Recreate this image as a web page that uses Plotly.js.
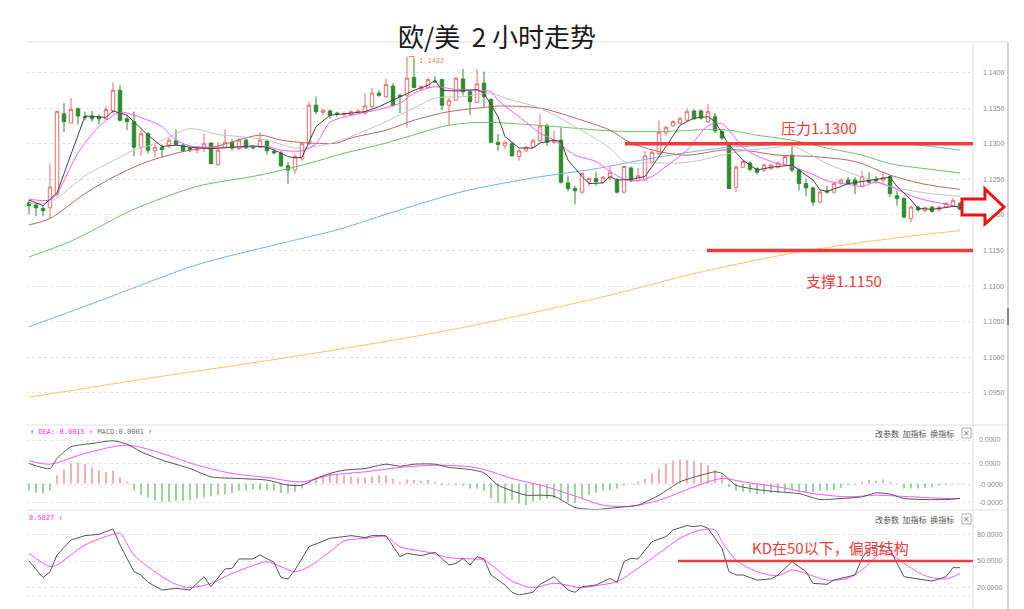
<!DOCTYPE html>
<html><head><meta charset="utf-8">
<script src="https://cdn.plot.ly/plotly-3.0.1.min.js"></script>
<style>html,body{margin:0;padding:0;background:#fff}#chart{width:1024px;height:609px}</style>
</head><body><div id="chart"></div>
<script>
// ---------------- DATA ----------------
const openP = [1.1217,1.1214,1.1209,1.1210,1.1229,1.1342,1.1329,1.1349,1.1338,1.1339,1.1338,1.1335,1.1346,1.1375,1.1335,1.1331,1.1295,1.1314,1.1290,1.1295,
1.1298,1.1304,1.1298,1.1294,1.1291,1.1294,1.1301,1.1271,1.1295,1.1302,1.1293,1.1305,1.1296,1.1295,1.1304,1.1289,1.1287,1.1269,1.1263,1.1279,
1.1300,1.1354,1.1344,1.1346,1.1343,1.1341,1.1341,1.1344,1.1343,1.1352,1.1371,1.1366,1.1381,1.1368,1.1368,1.1393,1.1377,1.1379,1.1388,1.1390,
1.1354,1.1361,1.1391,1.1373,1.1358,1.1385,1.1362,1.1302,1.1297,1.1300,1.1282,1.1290,1.1295,1.1304,1.1325,1.1302,1.1305,1.1245,1.1237,1.1232,
1.1246,1.1251,1.1246,1.1252,1.1249,1.1232,1.1266,1.1248,1.1249,1.1274,1.1286,1.1315,1.1325,1.1329,1.1333,1.1346,1.1346,1.1331,1.1338,1.1317,
1.1300,1.1239,1.1267,1.1273,1.1265,1.1263,1.1265,1.1267,1.1271,1.1284,1.1263,1.1244,1.1238,1.1218,1.1234,1.1232,1.1245,1.1249,1.1249,1.1240,
1.1249,1.1250,1.1249,1.1254,1.1227,1.1223,1.1195,1.1211,1.1206,1.1211,1.1207,1.1211,1.1213,1.1216];
const highP = [1.1221,1.1217,1.1214,1.1272,1.1347,1.1357,1.1364,1.1351,1.1345,1.1346,1.1341,1.1352,1.1386,1.1383,1.1340,1.1345,1.1319,1.1316,1.1299,1.1299,
1.1308,1.1320,1.1300,1.1296,1.1296,1.1314,1.1302,1.1302,1.1320,1.1306,1.1308,1.1307,1.1298,1.1316,1.1306,1.1293,1.1290,1.1274,1.1286,1.1302,
1.1359,1.1366,1.1349,1.1348,1.1345,1.1345,1.1347,1.1348,1.1371,1.1378,1.1375,1.1391,1.1385,1.1370,1.1422,1.1418,1.1382,1.1392,1.1395,1.1391,
1.1364,1.1393,1.1405,1.1375,1.1405,1.1401,1.1364,1.1314,1.1304,1.1302,1.1293,1.1297,1.1307,1.1342,1.1328,1.1318,1.1323,1.1255,1.1241,1.1260,
1.1253,1.1260,1.1255,1.1268,1.1252,1.1269,1.1268,1.1266,1.1290,1.1290,1.1333,1.1325,1.1333,1.1338,1.1349,1.1348,1.1348,1.1356,1.1343,1.1319,
1.1302,1.1270,1.1277,1.1275,1.1267,1.1272,1.1272,1.1275,1.1284,1.1296,1.1265,1.1251,1.1240,1.1234,1.1241,1.1246,1.1251,1.1253,1.1253,1.1262,
1.1260,1.1255,1.1261,1.1256,1.1234,1.1225,1.1213,1.1213,1.1212,1.1213,1.1213,1.1218,1.1224,1.1218];
const lowP = [1.1201,1.1198,1.1198,1.1196,1.1225,1.1316,1.1329,1.1327,1.1333,1.1331,1.1327,1.1333,1.1342,1.1331,1.1319,1.1283,1.1283,1.1286,1.1281,1.1281,
1.1294,1.1298,1.1288,1.1288,1.1286,1.1288,1.1271,1.1269,1.1294,1.1290,1.1291,1.1293,1.1292,1.1294,1.1285,1.1285,1.1267,1.1243,1.1258,1.1276,
1.1298,1.1341,1.1340,1.1335,1.1338,1.1338,1.1340,1.1342,1.1341,1.1350,1.1366,1.1365,1.1352,1.1343,1.1323,1.1378,1.1375,1.1378,1.1385,1.1347,
1.1326,1.1360,1.1368,1.1340,1.1358,1.1352,1.1302,1.1290,1.1293,1.1282,1.1276,1.1289,1.1293,1.1302,1.1297,1.1300,1.1244,1.1233,1.1215,1.1230,
1.1240,1.1241,1.1244,1.1249,1.1230,1.1230,1.1246,1.1247,1.1248,1.1272,1.1284,1.1311,1.1324,1.1328,1.1331,1.1334,1.1334,1.1329,1.1315,1.1305,
1.1237,1.1232,1.1266,1.1261,1.1257,1.1260,1.1263,1.1265,1.1270,1.1260,1.1234,1.1226,1.1213,1.1216,1.1230,1.1230,1.1242,1.1242,1.1229,1.1238,
1.1244,1.1244,1.1244,1.1225,1.1213,1.1195,1.1190,1.1205,1.1204,1.1203,1.1205,1.1210,1.1211,1.1207];
const closeP = [1.1213,1.1210,1.1206,1.1239,1.1345,1.1331,1.1348,1.1339,1.1337,1.1335,1.1335,1.1348,1.1375,1.1333,1.1331,1.1295,1.1314,1.1291,1.1295,1.1292,
1.1305,1.1299,1.1290,1.1292,1.1293,1.1300,1.1272,1.1291,1.1302,1.1294,1.1305,1.1294,1.1294,1.1305,1.1290,1.1287,1.1269,1.1263,1.1282,1.1300,
1.1354,1.1345,1.1347,1.1340,1.1342,1.1342,1.1345,1.1346,1.1353,1.1371,1.1368,1.1383,1.1354,1.1366,1.1392,1.1379,1.1380,1.1390,1.1387,1.1354,
1.1361,1.1392,1.1373,1.1359,1.1384,1.1366,1.1302,1.1299,1.1302,1.1283,1.1290,1.1295,1.1304,1.1325,1.1302,1.1305,1.1246,1.1237,1.1234,1.1258,
1.1251,1.1247,1.1253,1.1260,1.1232,1.1268,1.1248,1.1255,1.1283,1.1288,1.1316,1.1323,1.1331,1.1335,1.1345,1.1335,1.1336,1.1345,1.1318,1.1308,
1.1237,1.1267,1.1275,1.1264,1.1260,1.1270,1.1270,1.1273,1.1282,1.1263,1.1244,1.1238,1.1218,1.1232,1.1232,1.1244,1.1249,1.1244,1.1243,1.1254,
1.1246,1.1248,1.1252,1.1230,1.1223,1.1197,1.1211,1.1207,1.1210,1.1205,1.1211,1.1216,1.1220,1.1208];

// moving averages (sampled along the curves, x = bar number)
const ma5Idx = [1,3,5,9,12,13,15,18,20,22,24,27,33,35,37,38,39,40,42,44,46,49,51,53,54,56,58,59,60,62,65,66,68,69,71,73,74,76,77,78,80,81,83,84,85,87,89,90,92,94,96,98,99,101,103,104,105,107,108,110,111,113,114,115,117,118,120,122,124,125,127,128,130,131,133,134];
const ma5Val = [1.1221,1.1213,1.1231,1.1339,1.1337,1.1346,1.1340,1.1312,1.1296,1.1298,1.1295,1.1293,1.1297,1.1295,1.1287,1.1282,1.1280,1.1281,1.1324,1.1340,1.1342,1.1345,1.1352,1.1361,1.1366,1.1375,1.1382,1.1389,1.1375,1.1374,1.1376,1.1371,1.1338,1.1310,1.1294,1.1294,1.1301,1.1305,1.1303,1.1277,1.1254,1.1244,1.1245,1.1254,1.1249,1.1250,1.1254,1.1268,1.1296,1.1326,1.1336,1.1338,1.1331,1.1298,1.1277,1.1270,1.1263,1.1267,1.1268,1.1270,1.1263,1.1249,1.1235,1.1233,1.1240,1.1244,1.1247,1.1250,1.1253,1.1240,1.1221,1.1209,1.1208,1.1209,1.1212,1.1211];
const ma10Idx = [1,4,5,8,11,14,16,18,20,22,24,27,31,35,37,40,42,44,48,51,54,56,59,62,65,67,68,71,74,76,79,82,84,86,88,90,92,95,98,100,103,105,108,110,113,115,118,120,122,124,127,129,132,134];
const ma10Val = [1.1222,1.1221,1.1230,1.1287,1.1324,1.1344,1.1340,1.1333,1.1324,1.1305,1.1297,1.1295,1.1295,1.1296,1.1291,1.1290,1.1300,1.1330,1.1342,1.1348,1.1357,1.1371,1.1380,1.1376,1.1375,1.1373,1.1361,1.1338,1.1315,1.1305,1.1284,1.1275,1.1261,1.1250,1.1248,1.1254,1.1268,1.1291,1.1325,1.1328,1.1295,1.1283,1.1272,1.1268,1.1257,1.1248,1.1243,1.1240,1.1246,1.1240,1.1227,1.1221,1.1215,1.1211];
const ma20Idx = [1,4,9,11,14,16,19,24,28,31,35,39,43,45,47,52,56,59,63,67,69,74,79,84,86,90,94,97,100,103,107,110,115,120,124,129,134];
const ma20Val = [1.1216,1.1218,1.1255,1.1266,1.1281,1.1291,1.1300,1.1321,1.1313,1.1310,1.1305,1.1294,1.1298,1.1303,1.1310,1.1331,1.1350,1.1364,1.1366,1.1371,1.1364,1.1350,1.1324,1.1294,1.1275,1.1273,1.1273,1.1277,1.1284,1.1290,1.1294,1.1297,1.1272,1.1253,1.1240,1.1231,1.1226];
const ma30Idx = [1,4,9,14,18,23,28,34,37,41,45,47,52,56,61,67,68,74,80,84,87,91,95,100,103,108,113,118,120,124,129,134];
const ma30Val = [1.1186,1.1195,1.1230,1.1258,1.1275,1.1289,1.1297,1.1312,1.1305,1.1301,1.1301,1.1308,1.1319,1.1333,1.1345,1.1352,1.1353,1.1350,1.1333,1.1319,1.1301,1.1289,1.1284,1.1291,1.1291,1.1284,1.1282,1.1277,1.1272,1.1256,1.1243,1.1236];
const ma60Idx = [1,7,11,16,25,34,42,45,52,61,66,75,84,89,94,98,101,105,110,115,120,124,129,134];
const ma60Val = [1.1141,1.1163,1.1183,1.1208,1.1240,1.1256,1.1275,1.1284,1.1301,1.1326,1.1330,1.1325,1.1318,1.1317,1.1318,1.1320,1.1319,1.1312,1.1305,1.1294,1.1284,1.1272,1.1265,1.1259];
const ma120Idx = [1,11,25,40,45,54,63,73,82,89,96,101,105,110,118,125,129,134];
const ma120Val = [1.1043,1.1079,1.1130,1.1167,1.1179,1.1207,1.1233,1.1252,1.1265,1.1278,1.1289,1.1295,1.1297,1.1300,1.1301,1.1300,1.1297,1.1291];
const ma250Idx = [1,19,40,62,83,97,111,125,134];
const ma250Val = [1.0944,1.0972,1.1003,1.1040,1.1085,1.1120,1.1148,1.1168,1.1178];

// MACD
const macdHist = [-0.00076,-0.00097,-0.00104,-0.00076,0.00086,0.00145,0.00207,0.00214,0.002,0.00166,0.00138,0.00121,0.00131,0.00062,0.00017,-0.00076,-0.00121,-0.00145,-0.00173,-0.0019,
-0.0019,-0.00179,-0.00179,-0.00173,-0.00155,-0.00145,-0.00131,-0.00121,-0.0011,-0.00097,-0.00076,-0.00076,-0.00062,-0.00069,-0.00069,-0.00076,-0.00097,-0.00104,-0.00086,-0.00052,
0.00017,0.00062,0.00086,0.00104,0.00097,0.00086,0.00069,0.00062,0.00062,0.00076,0.00086,0.00086,0.00052,0.00017,0.00041,0.00035,0.00028,0.00035,0.00017,-0.00017,
-0.0001,-0.00017,-0.00024,-0.00052,-0.00052,-0.00076,-0.00155,-0.002,-0.00207,
-0.00173,-0.00207,-0.00224,-0.0019,-0.00173,-0.00155,-0.00155,-0.00173,-0.0019,-0.002,-0.00155,-0.00121,-0.00097,-0.00076,-0.00069,-0.00052,-0.00017,-0.00005,0.00017,0.00052,
0.00104,0.00155,0.00207,0.00235,0.00248,0.00242,0.00235,0.00214,0.0019,0.00138,0.00086,-0.00035,-0.00076,-0.00086,-0.00097,-0.0011,-0.00104,-0.00097,-0.00097,-0.00086,
-0.00069,-0.00086,-0.00097,-0.00086,-0.00076,-0.00076,-0.00069,-0.00045,-0.00017,-0.0001,0.00017,0.00035,0.00028,0.00041,0.00014,0.00005,-0.00052,-0.00052,-0.00052,-0.00045,
-0.00035,-0.00017,-0.0001,0.00007,0.00007];
const difIdx = [1,4,5,7,10,13,15,17,20,24,27,31,35,38,40,42,44,46,49,52,54,56,59,61,64,66,68,70,72,74,76,79,82,85,88,91,94,97,99,100,102,105,108,111,114,117,120,122,124,126,129,132,134];
const difVal = [0.00207,0.00155,0.00259,0.0038,0.00414,0.00442,0.00407,0.00328,0.00242,0.00155,0.00069,0.00052,0.00035,-0.00017,-0.00017,0.00052,0.00104,0.00138,0.00155,0.002,0.00179,0.002,0.002,0.00166,0.00145,0.0011,-0.00017,-0.00076,-0.00121,-0.00121,-0.00131,-0.00248,-0.00269,-0.00248,-0.00224,-0.00121,0.00017,0.00086,0.00121,0.00104,-0.00017,-0.00062,-0.00086,-0.00104,-0.00166,-0.00155,-0.00138,-0.00097,-0.0011,-0.00155,-0.00166,-0.00166,-0.00155];
const deaIdx = [1,4,9,15,20,25,30,35,40,44,49,54,59,64,66,70,75,80,83,87,91,96,100,103,108,113,118,122,127,132,134];
const deaVal = [0.00235,0.002,0.00311,0.00397,0.00311,0.0019,0.00104,0.00062,0.00017,0.00086,0.00121,0.00166,0.0019,0.00173,0.00145,0.00052,-0.00035,-0.00155,-0.00224,-0.00235,-0.00173,-0.00035,0.00052,0.00017,-0.00035,-0.00104,-0.00138,-0.00121,-0.00138,-0.00155,-0.00155];

// KD
const kIdx = [1,3,4,5,7,9,11,13,14,16,17,18,20,22,24,26,27,29,30,31,33,34,36,37,38,39,41,44,46,47,49,50,52,54,55,57,59,61,62,63,64,65,66,67,69,70,71,73,74,76,78,79,80,82,84,85,86,87,88,90,92,93,95,96,97,98,100,101,102,103,105,107,108,110,112,113,115,116,118,119,120,121,123,124,125,126,128,130,131,132,133,134];
const kVal = [50,31.3,38,56.8,73.6,78.5,80,86,68,38,34.3,26,17.4,19.3,17.4,32.4,21.1,41,41.8,52.3,52.3,56.8,48.5,31.3,29.8,39.9,66.1,75.5,77.4,78.5,76.3,78.5,78.5,54.9,58.6,56,59.8,45.5,47.4,53,45.5,54.9,52.3,34.3,23,14.8,11.8,14.8,23.8,32.4,17.4,14.8,21.1,23,30.5,26,49.3,53,52.3,71.8,77.4,84.9,89.8,88.6,89.8,86.8,64.3,38,34.3,34.3,28.6,29.8,34.3,49.3,38,24.9,23.8,28.6,32.4,34.3,53,64.3,67.3,63.5,47.4,32.4,29.8,27.5,29.8,32.4,42.5,42.5];
const dIdx = [1,4,5,9,13,14,16,20,22,24,27,30,33,35,37,39,41,44,46,49,52,54,58,61,64,66,70,73,76,80,82,85,88,91,94,97,99,100,102,105,108,110,112,115,118,120,123,124,126,129,132,134];
const dVal = [58.6,43.6,45.5,68,80,81,56.8,32.4,23.8,20,25,36,44.8,49.3,43.6,38,43.6,60.5,72.5,75.5,77.4,66.1,59.8,53.8,52.3,51.1,27.5,20,25,20,22.3,26.8,41.8,58.6,75.5,84.9,84.9,71.8,51.1,38,33.5,39.9,36,28.6,30.5,39.9,60.5,58.6,47.4,33.5,29.8,36];

const priceTicks = [1.095,1.10,1.105,1.11,1.115,1.12,1.125,1.13,1.135,1.14];
const priceTickText = ['1.0950','1.1000','1.1050','1.1100','1.1150','1.1200','1.1250','1.1300','1.1350','1.1400'];
const macdTicks = [0.0045,0.0021,-0.00015,-0.002];
const macdTickText = ['0.0000','0.0000','-0.0000','-0.0000'];
const kdTicks = [80,50,20];
const kdTickText = ['80.0000','50.0000','20.0000'];
const resistance = 1.1300, support = 1.1150, kdLevel = 50, highMark = 1.1422;
const titleText = '欧/美\u00a0\u00a02\u00a0小时走势';

// ---------------- CHART ----------------
const bars = openP.map((_, i) => i + 1);
const L = 26, R = 973, H = 609;
const px = x => (x - L) / (R - L);
const py = y => 1 - y / H;

const maLine = (x, y, color, shape) => ({type:'scatter', mode:'lines', x, y, xaxis:'x', yaxis:'y',
  line:{color, width:1, shape: shape || 'spline', smoothing:0.8}, hoverinfo:'skip'});

const traces = [
  {type:'candlestick', x:bars, open:openP, high:highP, low:lowP, close:closeP, xaxis:'x', yaxis:'y',
   increasing:{line:{color:'#f26a6a', width:1}, fillcolor:'#ffffff'},
   decreasing:{line:{color:'#2e8b2e', width:1}, fillcolor:'#2e8b2e'},
   hoverinfo:'skip'},
  maLine(ma250Idx, ma250Val, '#ffc266'),
  maLine(ma120Idx, ma120Val, '#6fb4e8'),
  maLine(ma60Idx, ma60Val, '#6cc06c'),
  maLine(ma30Idx, ma30Val, '#b36a62'),
  maLine(ma20Idx, ma20Val, '#c4c4c4'),
  maLine(ma10Idx, ma10Val, '#ff5cff'),
  maLine(ma5Idx, ma5Val, '#444444', 'linear'),
  {type:'bar', x:bars, y:macdHist, xaxis:'x', yaxis:'y2', width:0.24,
   marker:{color: macdHist.map(v => v >= 0 ? '#f4a0a0' : '#8fca8f'), line:{width:0}}, hoverinfo:'skip'},
  {type:'scatter', mode:'lines', x:deaIdx, y:deaVal, xaxis:'x', yaxis:'y2', line:{color:'#ff55ff', width:1, shape:'spline', smoothing:0.8}, hoverinfo:'skip'},
  {type:'scatter', mode:'lines', x:difIdx, y:difVal, xaxis:'x', yaxis:'y2', line:{color:'#555555', width:1, shape:'spline', smoothing:0.6}, hoverinfo:'skip'},
  {type:'scatter', mode:'lines', x:dIdx, y:dVal, xaxis:'x', yaxis:'y3', line:{color:'#ff55ff', width:1, shape:'spline', smoothing:0.8}, hoverinfo:'skip'},
  {type:'scatter', mode:'lines', x:kIdx, y:kVal, xaxis:'x', yaxis:'y3', line:{color:'#555555', width:1}, hoverinfo:'skip'}
];

const tickFont = {family:'Liberation Sans, Arial, sans-serif', size:7, color:'#8a8a8a'};
const yBase = {side:'right', anchor:'x', showgrid:true, gridcolor:'#e2e2e2', griddash:'dot', gridwidth:1,
  zeroline:false, showline:false, ticks:'', tickfont:tickFont, fixedrange:true, tickmode:'array'};

const red = '#f23c3c';
const shapes = [
  {type:'line', xref:'paper', yref:'paper', x0:px(26), x1:px(1008), y0:py(42), y1:py(42), line:{color:'#e0e0e0', width:1}},
  {type:'line', xref:'paper', yref:'paper', x0:px(26), x1:px(1008), y0:py(425), y1:py(425), line:{color:'#e0e0e0', width:1}},
  {type:'line', xref:'paper', yref:'paper', x0:px(26), x1:px(1008), y0:py(510), y1:py(510), line:{color:'#e0e0e0', width:1}},
  {type:'line', xref:'paper', yref:'paper', x0:px(26), x1:px(973), y0:py(596), y1:py(596), line:{color:'#e6e6e6', width:1, dash:'dot'}},
  {type:'line', xref:'paper', yref:'paper', x0:px(973), x1:px(973), y0:py(42), y1:py(609), line:{color:'#e0e0e0', width:1}},
  {type:'line', xref:'paper', yref:'paper', x0:px(1008), x1:px(1008), y0:py(42), y1:py(609), line:{color:'#d0d0d0', width:2}},
  {type:'line', xref:'paper', yref:'paper', x0:px(1008), x1:px(1008), y0:py(308), y1:py(325), line:{color:'#888', width:2}},
  {type:'line', xref:'x', yref:'y', x0:(625-22)/7, x1:951/7, y0:resistance, y1:resistance, line:{color:red, width:3.5}},
  {type:'line', xref:'x', yref:'y', x0:(707-22)/7, x1:951/7, y0:support, y1:support, line:{color:red, width:3.5}},
  {type:'line', xref:'x', yref:'y3', x0:(678-22)/7, x1:951/7, y0:kdLevel, y1:kdLevel, line:{color:red, width:2.5}},
  {type:'path', xref:'paper', yref:'paper',
   path:`M${px(409)},${py(56.5)} L${px(414)},${py(56.5)} L${px(414)},${py(60)}`, line:{color:'#f08a3c', width:1}},
  {type:'path', xref:'paper', yref:'paper', layer:'above',
   path:`M${px(962)},${py(199)} L${px(985)},${py(199)} L${px(985)},${py(189)} L${px(1004)},${py(207)} L${px(985)},${py(224)} L${px(985)},${py(215)} L${px(962)},${py(215)} Z`,
   line:{color:'#ee1111', width:3}, fillcolor:'#ffffff'},
  {type:'rect', xref:'paper', yref:'paper', x0:px(962), x1:px(971), y0:py(438), y1:py(428), line:{color:'#aaa', width:1}, fillcolor:'#fff'},
  {type:'rect', xref:'paper', yref:'paper', x0:px(962), x1:px(971), y0:py(524), y1:py(514), line:{color:'#aaa', width:1}, fillcolor:'#fff'}
];

const cjk = 'Noto Sans CJK SC, sans-serif';
const mono = 'DejaVu Sans Mono, monospace';
const ann = (x, y, text, font, xanchor) => ({xref:'paper', yref:'paper', x:px(x), y:py(y), text, showarrow:false,
  font, xanchor: xanchor || 'center', yanchor:'middle'});

const annotations = [
  ann(497, 35, titleText, {family:cjk, size:26, color:'#1a1a1a'}),
  ann(819, 128, '压力' + resistance.toFixed(4), {family:cjk, size:15, color:red}),
  ann(844, 280, '支撑' + support.toFixed(4), {family:cjk, size:15, color:red}),
  ann(830, 547, 'KD在' + kdLevel + '以下，偏弱结构', {family:cjk, size:15, color:red}),
  ann(417, 61, highMark.toFixed(4), {family:mono, size:7, color:'#f08a3c'}, 'left'),
  ann(28, 432, '<span style="color:#555">↑</span> <span style="color:#ff33ff">DEA:-0.0015 ↑</span> <span style="color:#777">MACD:0.0001 ↑</span>',
      {family:mono, size:7, color:'#555'}, 'left'),
  ann(27, 518, '8.5827 ↑', {family:mono, size:7, color:'#ff33ff'}, 'left'),
  ann(873, 433, '改参数  加指标  换指标', {family:cjk, size:8, color:'#555'}, 'left'),
  ann(873, 519, '改参数  加指标  换指标', {family:cjk, size:8, color:'#555'}, 'left'),
  ann(966.5, 433, '×', {family:'DejaVu Sans', size:8, color:'#777'}),
  ann(966.5, 519, '×', {family:'DejaVu Sans', size:8, color:'#777'})
];

const layout = {
  width:1024, height:609,
  margin:{l:L, r:1024 - R, t:0, b:0},
  paper_bgcolor:'#ffffff', plot_bgcolor:'#ffffff',
  showlegend:false,
  boxgap:0.3,
  xaxis:{range:[4/7, 951/7], showgrid:false, zeroline:false, showticklabels:false, ticks:'',
    showline:false, rangeslider:{visible:false}, fixedrange:true},
  yaxis:Object.assign({}, yBase, {domain:[py(425), py(42)], range:[1.090506, 1.144282],
    tickvals:priceTicks, ticktext:priceTickText, ticklabelstandoff:9}),
  yaxis2:Object.assign({}, yBase, {domain:[py(510), py(425)], range:[-0.002741, 0.006052],
    tickvals:macdTicks, ticktext:macdTickText, ticklabelstandoff:5}),
  yaxis3:Object.assign({}, yBase, {domain:[py(600), py(510)], range:[6.18, 107.3],
    tickvals:kdTicks, ticktext:kdTickText, ticklabelstandoff:3}),
  shapes, annotations
};

Plotly.newPlot('chart', traces, layout, {displayModeBar:false, staticPlot:true});
</script>
</body></html>
